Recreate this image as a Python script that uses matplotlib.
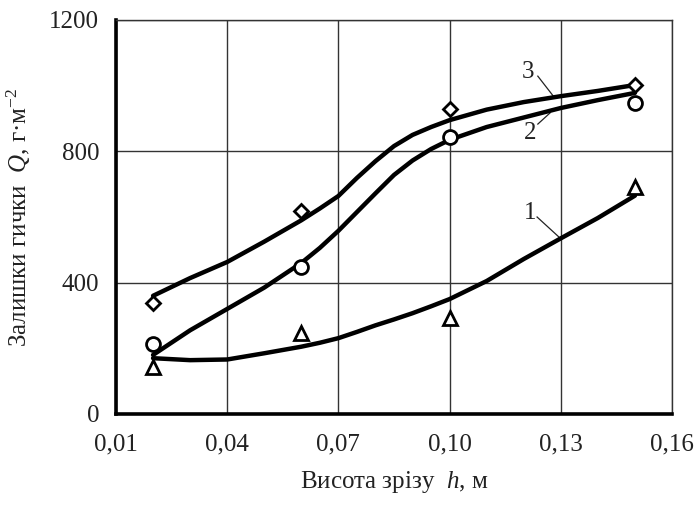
import matplotlib
matplotlib.use("Agg")
import matplotlib.pyplot as plt

# measured points
h_pts = [0.02, 0.06, 0.10, 0.15]
q1_pts = [143, 247, 292, 691]   # triangles, curve 1
q2_pts = [213, 448, 845, 947]   # circles, curve 2
q3_pts = [338, 618, 929, 1002]  # diamonds, curve 3

# fitted curves
h_curve = [0.02, 0.03, 0.04, 0.05, 0.06, 0.065, 0.07, 0.075, 0.08, 0.085, 0.09, 0.095,
           0.10, 0.11, 0.12, 0.13, 0.14, 0.15]
q1_curve = [170, 164, 166, 185, 205, 217, 231, 250, 270, 288, 307, 328,
            350, 405, 472, 535, 597, 665]
q2_curve = [180, 255, 320, 385, 460, 506, 558, 615, 672, 728, 772, 807,
            835, 874, 903, 932, 956, 978]
q3_curve = [360, 414, 463, 525, 590, 626, 664, 719, 770, 816, 850, 874,
            895, 927, 950, 968, 984, 1002]

x_ticks = [0.01, 0.04, 0.07, 0.10, 0.13, 0.16]
x_ticklabels = ["0,01", "0,04", "0,07", "0,10", "0,13", "0,16"]
y_ticks = [0, 400, 800, 1200]
y_ticklabels = ["0", "400", "800", "1200"]

plt.rcParams['font.family'] = ['Liberation Serif', 'DejaVu Serif']
plt.rcParams['mathtext.fontset'] = 'custom'
plt.rcParams['mathtext.rm'] = 'Liberation Serif'
plt.rcParams['mathtext.it'] = 'Liberation Serif:italic'

fig = plt.figure(figsize=(6.98, 5.08), dpi=100)
ax = fig.add_axes([116/698, 1-414/508, (672-116)/698, (414-20)/508])

ax.set_xlim(0.01, 0.16)
ax.set_ylim(0, 1200)
ax.set_xticks(x_ticks)
ax.set_xticklabels(x_ticklabels)
ax.set_yticks(y_ticks)
ax.set_yticklabels(y_ticklabels)
ax.tick_params(length=0, labelsize=18, colors='#222222')
ax.tick_params(axis='y', pad=12)
ax.tick_params(axis='x', pad=14)

ax.grid(True, color='#333333', linewidth=1.0)
ax.set_axisbelow(True)
for s in ['left', 'bottom']:
    ax.spines[s].set_linewidth(2.6)
    ax.spines[s].set_color('black')
for s in ['top', 'right']:
    ax.spines[s].set_linewidth(1.0)
    ax.spines[s].set_color('#333333')

lw = 3.2
for qc in (q1_curve, q2_curve, q3_curve):
    ax.plot(h_curve, qc, color='black', lw=lw, solid_capstyle='round', solid_joinstyle='round', zorder=3)

mk = dict(color='none', markerfacecolor='white', markeredgecolor='black', markeredgewidth=2.0, linestyle='none', zorder=4, clip_on=False)
ax.plot(h_pts, q1_pts, marker='^', markersize=10, **mk)
ax.plot(h_pts, q2_pts, marker='o', markersize=10, **mk)
ax.plot(h_pts, q3_pts, marker='D', markersize=7.5, **mk)

# curve labels with leader lines
def label(num, txt_xy, line_from, line_to):
    ax.text(txt_xy[0], txt_xy[1], num, fontsize=18, ha='center', va='center', color='#222222')
    ax.plot([line_from[0], line_to[0]], [line_from[1], line_to[1]], color='#222222', lw=0.9, zorder=2)

label("3", (0.1211, 1042), (0.1238, 1029), (0.1282, 965))
label("2", (0.1217, 855), (0.1238, 883), (0.1271, 917))
label("1", (0.1217, 612), (0.1236, 600), (0.1295, 539))

ax.set_xlabel("Висота зрізу  $h$, м", fontsize=18, labelpad=10, color='#222222')
ax.set_ylabel("Залишки гички  $Q$, г·м$^{-2}$", fontsize=18, labelpad=12, color='#222222')

fig.savefig("out.png", dpi=100)
